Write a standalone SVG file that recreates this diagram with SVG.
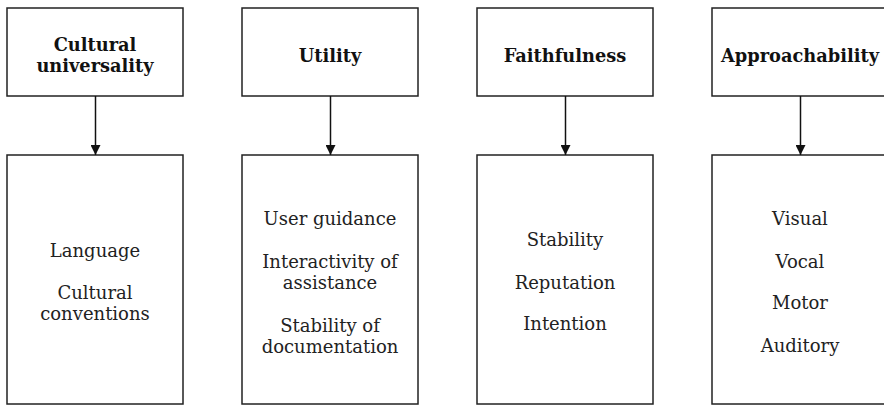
<svg xmlns="http://www.w3.org/2000/svg" width="884" height="405" viewBox="0 0 884 405">
  <defs>
    <marker id="arrow" viewBox="0 0 10 10" refX="10" refY="5" markerWidth="10" markerHeight="10" markerUnits="userSpaceOnUse" orient="auto">
      <path d="M0,0 L10,5 L0,10 z" fill="#111"/>
    </marker>
    <style>
      .box { fill: #fff; stroke: #222; stroke-width: 1.5; }
      .edge { stroke: #111; stroke-width: 1.5; fill: none; marker-end: url(#arrow); }
      .title { font-family: "DejaVu Serif", serif; font-weight: bold; font-size: 17.8px; fill: #111; text-anchor: middle; }
      .item { font-family: "DejaVu Serif", serif; font-size: 18px; fill: #222; text-anchor: middle; }
    </style>
  </defs>
  <rect width="884" height="405" fill="#fff"/>

  <g id="cultural-universality">
    <rect class="box" x="7" y="8" width="176" height="88"/>
    <text class="title" x="95" y="51">Cultural</text>
    <text class="title" x="95" y="72">universality</text>
  </g>
  <g id="cultural-items">
    <rect class="box" x="7" y="155" width="176" height="249"/>
    <text class="item" x="95" y="257">Language</text>
    <text class="item" x="95" y="299">Cultural</text>
    <text class="item" x="95" y="320">conventions</text>
  </g>

  <g id="utility">
    <rect class="box" x="242" y="8" width="176" height="88"/>
    <text class="title" x="330" y="61.5">Utility</text>
  </g>
  <g id="utility-items">
    <rect class="box" x="242" y="155" width="176" height="249"/>
    <text class="item" x="330" y="225">User guidance</text>
    <text class="item" x="330" y="268">Interactivity of</text>
    <text class="item" x="330" y="289">assistance</text>
    <text class="item" x="330" y="332">Stability of</text>
    <text class="item" x="330" y="353">documentation</text>
  </g>

  <g id="faithfulness">
    <rect class="box" x="477" y="8" width="176" height="88"/>
    <text class="title" x="565" y="61.5">Faithfulness</text>
  </g>
  <g id="faithfulness-items">
    <rect class="box" x="477" y="155" width="176" height="249"/>
    <text class="item" x="565" y="246">Stability</text>
    <text class="item" x="565" y="289">Reputation</text>
    <text class="item" x="565" y="330">Intention</text>
  </g>

  <g id="approachability">
    <rect class="box" x="712" y="8" width="176" height="88"/>
    <text class="title" x="800" y="61.5">Approachability</text>
  </g>
  <g id="approachability-items">
    <rect class="box" x="712" y="155" width="176" height="249"/>
    <text class="item" x="800" y="225">Visual</text>
    <text class="item" x="800" y="268">Vocal</text>
    <text class="item" x="800" y="309">Motor</text>
    <text class="item" x="800" y="352">Auditory</text>
  </g>

  <g id="connectors">
    <line class="edge" x1="95.5" y1="96" x2="95.5" y2="155"/>
    <line class="edge" x1="330.5" y1="96" x2="330.5" y2="155"/>
    <line class="edge" x1="565.5" y1="96" x2="565.5" y2="155"/>
    <line class="edge" x1="800.5" y1="96" x2="800.5" y2="155"/>
  </g>
</svg>
